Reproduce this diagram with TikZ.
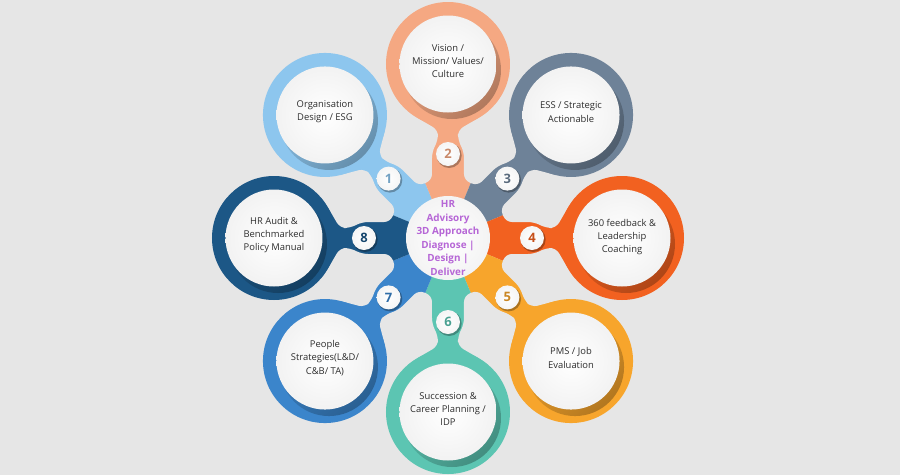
\documentclass[tikz,border=0pt]{standalone}
\usepackage{fontspec}
\setmainfont{Open Sans}
\usetikzlibrary{calc}
\definecolor{bg}{HTML}{E6E6E6}
\definecolor{cA}{HTML}{8DC6EE}
\definecolor{cB}{HTML}{F5A882}
\definecolor{cC}{HTML}{6E8298}
\definecolor{cD}{HTML}{F26120}
\definecolor{cE}{HTML}{F7A52C}
\definecolor{cF}{HTML}{5CC5B2}
\definecolor{cG}{HTML}{3B85CB}
\definecolor{cH}{HTML}{1C5786}
\definecolor{hubtext}{RGB}{182,102,214}
\definecolor{txt}{HTML}{2E2E2E}
\begin{document}
\begin{tikzpicture}[x=1pt,y=1pt,
  lbl/.style={align=center, text=txt, font=\fontsize{9.4}{13.3}\selectfont, inner sep=0pt},
  hubnode/.style={circle, minimum size=84pt, inner sep=0pt, align=center, text=hubtext,
     font=\fontsize{9.9}{13.5}\selectfont\bfseries},
  numnode/.style={inner sep=0pt, font=\fontsize{13}{13}\selectfont\bfseries}]
\path[use as bounding box, fill=bg] (-448,-237) rectangle (452,238);
% coloured sectors
\foreach \a/\c in {135/cA,90/cB,45/cC,0/cD,-45/cE,-90/cF,-135/cG,180/cH}{
  \fill[\c] (0,0) -- (\a-22.5:175) arc[start angle=\a-22.5, end angle=\a+22.5, radius=175pt] -- cycle;
}
% background gaps carving the arms
\foreach \a in {0,45,...,315}{
  \pgfmathsetmacro\b{\a+45}
  \pgfmathsetmacro\g{\a+22.5}
  \fill[bg, rounded corners=6pt]
    ($(\a:57.8)+(\a+90:16)$) -- ($(\a:86)+(\a+90:16)$) -- ($(\a:98)+(\a+90:10)$)
    -- ($(\a:108)+(\a+90:10)$) -- ($(\a:122)+(\a+90:34)$) -- (\g:260)
    -- ($(\b:122)+(\b-90:34)$) -- ($(\b:108)+(\b-90:10)$) -- ($(\b:98)+(\b-90:10)$)
    -- ($(\b:86)+(\b-90:16)$) -- ($(\b:57.8)+(\b-90:16)$) -- cycle;
}
% outer rings and badges
\foreach \a/\c/\n in {135/cA/1,90/cB/2,45/cC/3,0/cD/4,-45/cE/5,-90/cF/6,-135/cG/7,180/cH/8}{
  \fill[\c] (\a:174) circle[radius=62pt];
  \begin{scope}
    \clip (\a:174) circle[radius=61pt];
    \shade[shading=axis, top color=\c, bottom color=\c!72!black, shading angle=45]
      ($(\a:174)+(4,-6)$) circle[radius=49pt];
  \end{scope}
  \shade[inner color=white, outer color=gray!10] (\a:174) circle[radius=48.5pt];
  \fill[\c!70!black] ($(\a:84)+(1.2,-1.5)$) circle[radius=12.5pt];
  \shade[inner color=white, outer color=gray!8] (\a:84) circle[radius=12pt];
  \node[numnode, text=\c!82!black] (n\n) at (\a:84) {\n};
}
% hub
\shade[inner color=white, outer color=gray!9] (0,0) circle[radius=42pt];
\node[hubnode] (hub) at (0,0) {HR\\Advisory\\3D Approach\\Diagnose |\\Design |\\Deliver};
% labels
\node[lbl] (t1) at ($(135:174)+(0,3)$) {Organisation\\Design / ESG};
\node[lbl] (t2) at ($(90:174)+(0,3)$) {Vision /\\Mission/ Values/\\Culture};
\node[lbl] (t3) at ($(45:174)+(0,3)$) {ESS / Strategic\\Actionable};
\node[lbl] (t4) at ($(0:174)+(0,1)$) {360 feedback \&\\Leadership\\Coaching};
\node[lbl] (t5) at ($(-45:174)+(0,3)$) {PMS / Job\\Evaluation};
\node[lbl] (t6) at ($(-90:174)+(0,3)$) {Succession \&\\Career Planning /\\IDP};
\node[lbl] (t7) at ($(-135:174)+(0,3)$) {People\\Strategies(L\&D/\\C\&B/ TA)};
\node[lbl] (t8) at ($(180:174)+(0,3)$) {HR Audit \&\\Benchmarked\\Policy Manual};
\end{tikzpicture}
\end{document}
